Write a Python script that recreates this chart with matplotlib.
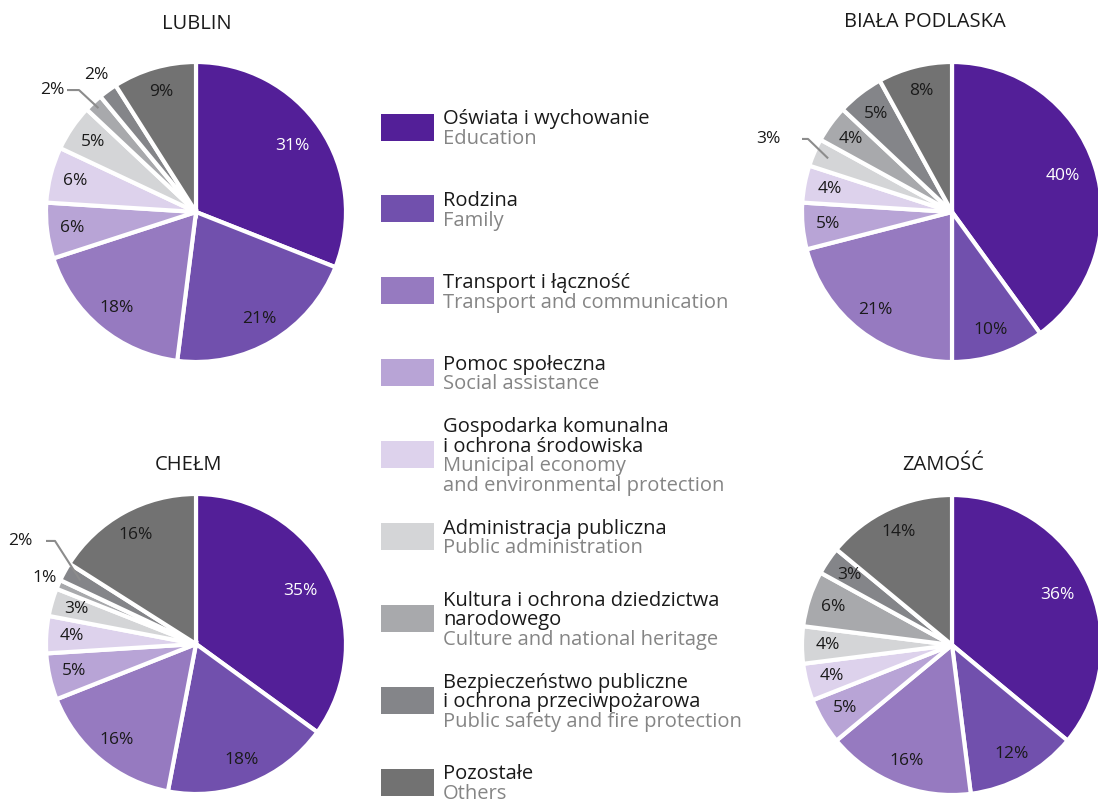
import numpy as np
import matplotlib
matplotlib.use('Agg')
import matplotlib.pyplot as plt
from matplotlib.patches import Rectangle

plt.rcParams['font.family'] = ['Open Sans', 'DejaVu Sans']

# --- Data: expenditure structure by city (%) ---
categories_pl = [
    'Oświata i wychowanie',
    'Rodzina',
    'Transport i łączność',
    'Pomoc społeczna',
    'Gospodarka komunalna\ni ochrona środowiska',
    'Administracja publiczna',
    'Kultura i ochrona dziedzictwa\nnarodowego',
    'Bezpieczeństwo publiczne\ni ochrona przeciwpożarowa',
    'Pozostałe',
]
categories_en = [
    'Education',
    'Family',
    'Transport and communication',
    'Social assistance',
    'Municipal economy\nand environmental protection',
    'Public administration',
    'Culture and national heritage',
    'Public safety and fire protection',
    'Others',
]
lublin = [31, 21, 18, 6, 6, 5, 2, 2, 9]
biala_podlaska = [40, 10, 21, 5, 4, 3, 4, 5, 8]
chelm = [35, 18, 16, 5, 4, 3, 1, 2, 16]
zamosc = [36, 12, 16, 5, 4, 4, 6, 3, 14]

colors = ['#531f98', '#7150ad', '#967ac0', '#b8a4d6', '#ddd2ec',
          '#d4d5d7', '#a8a9ac', '#848589', '#727272']
text_dark = '#1a1a1a'
text_grey = '#858585'
leader_color = '#8c8c8c'

W, H = 1098, 808
fig = plt.figure(figsize=(W / 100, H / 100), dpi=100, facecolor='white')

R = 150  # pie radius in px
PCT_SIZE = 12.5


def pie_axes(cx, cy):
    return fig.add_axes([(cx - R) / W, (H - cy - R) / H, 2 * R / W, 2 * R / H])


def draw_pie(ax, values, outside=None, leader=None):
    """outside: {index: radial distance}; leader: {index: (text_xy, elbow_x, line_start_x, anchor_r)}"""
    outside = outside or {}
    leader = leader or {}
    wedges, _ = ax.pie(values, colors=colors, startangle=90, counterclock=False,
                       radius=1.0,
                       wedgeprops=dict(edgecolor='white', linewidth=3))
    for i, (w, v) in enumerate(zip(wedges, values)):
        mid = np.deg2rad((w.theta1 + w.theta2) / 2)
        dx, dy = np.cos(mid), np.sin(mid)
        col = 'white' if i == 0 else text_dark
        if i in leader:
            (tx, ty), elbow_x, start_x, ar = leader[i]
            ax.plot([start_x, elbow_x, dx * ar], [ty, ty, dy * ar],
                    color=leader_color, lw=1.5, solid_capstyle='butt')
            ax.text(tx, ty, f'{v}%', ha='center', va='center',
                    fontsize=PCT_SIZE, color=text_dark)
            continue
        r = outside.get(i, 0.78 if i == 0 else 0.83)
        ax.text(dx * r, dy * r, f'{v}%', ha='center', va='center',
                fontsize=PCT_SIZE, color=col)
    ax.set_xlim(-1, 1)
    ax.set_ylim(-1, 1)
    ax.set_aspect('equal')
    ax.axis('off')


# --- Pies ---
ax_l = pie_axes(196, 212)
draw_pie(ax_l, lublin, outside={7: 1.13},
         leader={6: ((-0.96, 0.813), -0.78, -0.86, 0.95)})

ax_b = pie_axes(952, 212)
draw_pie(ax_b, biala_podlaska,
         leader={5: ((-1.227, 0.487), -0.96, -1.067, 0.9)})

ax_c = pie_axes(196, 644)
draw_pie(ax_c, chelm, outside={6: 1.1},
         leader={7: ((-1.173, 0.687), -0.94, -1.02, 0.88)})

ax_z = pie_axes(952, 645)
draw_pie(ax_z, zamosc)

# --- Overlay axes in pixel coordinates for titles and legend ---
ov = fig.add_axes([0, 0, 1, 1], zorder=-1)
ov.set_xlim(0, W)
ov.set_ylim(H, 0)
ov.axis('off')

titles = [('LUBLIN', 197, 24), ('BIAŁA PODLASKA', 925, 22),
          ('CHEŁM', 189, 465), ('ZAMOŚĆ', 943, 465)]
for t, x, y in titles:
    ov.text(x, y, t, ha='center', va='center', fontsize=14.5, color=text_dark)

# --- Legend ---
line_h = 19.5
for i, (pl, en) in enumerate(zip(categories_pl, categories_en)):
    yc = 127 + 81.9 * i
    ov.add_patch(Rectangle((381, yc - 13.5), 53, 27, facecolor=colors[i],
                           edgecolor='none'))
    lines = [(s, text_dark) for s in pl.split('\n')] + \
            [(s, text_grey) for s in en.split('\n')]
    y0 = yc + 2 - line_h * (len(lines) - 1) / 2
    for k, (s, c) in enumerate(lines):
        ov.text(443, y0 + k * line_h, s, ha='left', va='center',
                fontsize=14.5, color=c)

fig.savefig('out.png', dpi=100, facecolor='white')
